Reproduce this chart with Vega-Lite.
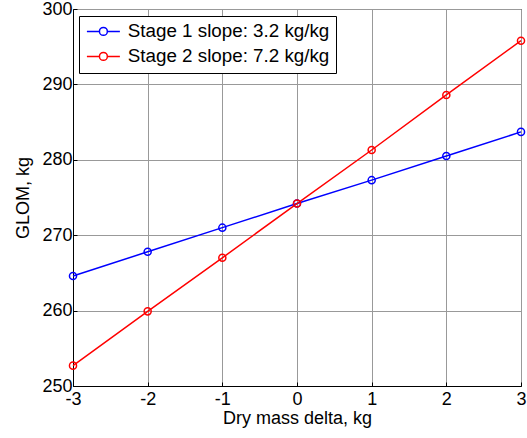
{
  "$schema": "https://vega.github.io/schema/vega-lite/v6.json",
  "width": 448,
  "height": 377,
  "autosize": {"type": "none"},
  "padding": {"left": 73, "top": 9, "right": 6, "bottom": 52},
  "background": "white",
  "config": {
    "font": "Liberation Sans",
    "view": {"stroke": "black", "strokeWidth": 1},
    "axis": {
      "domainColor": "black",
      "gridColor": "#999999",
      "gridWidth": 1,
      "gridOpacity": 1,
      "tickColor": "black",
      "tickSize": -4,
      "labelFont": "Liberation Sans",
      "labelFontSize": 18,
      "labelColor": "black",
      "titleFont": "Liberation Sans",
      "titleFontSize": 18,
      "titleFontWeight": "normal",
      "titleColor": "black"
    }
  },
  "data": {
    "values": [
      {"x": -3, "glom": 264.6, "series": "Stage 1 slope: 3.2 kg/kg"},
      {"x": -2, "glom": 267.8, "series": "Stage 1 slope: 3.2 kg/kg"},
      {"x": -1, "glom": 271.0, "series": "Stage 1 slope: 3.2 kg/kg"},
      {"x": 0, "glom": 274.2, "series": "Stage 1 slope: 3.2 kg/kg"},
      {"x": 1, "glom": 277.3, "series": "Stage 1 slope: 3.2 kg/kg"},
      {"x": 2, "glom": 280.5, "series": "Stage 1 slope: 3.2 kg/kg"},
      {"x": 3, "glom": 283.7, "series": "Stage 1 slope: 3.2 kg/kg"},
      {"x": -3, "glom": 252.7, "series": "Stage 2 slope: 7.2 kg/kg"},
      {"x": -2, "glom": 259.9, "series": "Stage 2 slope: 7.2 kg/kg"},
      {"x": -1, "glom": 267.0, "series": "Stage 2 slope: 7.2 kg/kg"},
      {"x": 0, "glom": 274.2, "series": "Stage 2 slope: 7.2 kg/kg"},
      {"x": 1, "glom": 281.3, "series": "Stage 2 slope: 7.2 kg/kg"},
      {"x": 2, "glom": 288.6, "series": "Stage 2 slope: 7.2 kg/kg"},
      {"x": 3, "glom": 295.8, "series": "Stage 2 slope: 7.2 kg/kg"}
    ]
  },
  "encoding": {
    "x": {
      "field": "x",
      "type": "quantitative",
      "scale": {"domain": [-3, 3], "nice": false},
      "axis": {"title": "Dry mass delta, kg", "values": [-3, -2, -1, 0, 1, 2, 3], "labelExpr": "'' + datum.value", "labelPadding": 8, "titlePadding": 1, "labelFlush": false}
    },
    "y": {
      "field": "glom",
      "type": "quantitative",
      "scale": {"domain": [250, 300], "nice": false, "zero": false},
      "axis": {"title": "GLOM, kg", "values": [250, 260, 270, 280, 290, 300], "labelPadding": 5, "titlePadding": 9, "labelFlush": false}
    },
    "color": {
      "field": "series",
      "type": "nominal",
      "scale": {"range": ["#0000ff", "#ff0000"]},
      "legend": {
        "title": null,
        "orient": "none",
        "legendX": 6,
        "legendY": 7,
        "strokeColor": "black",
        "fillColor": "white",
        "padding": 6,
        "labelFontSize": 18.8,
        "labelFont": "Liberation Sans",
        "labelColor": "black",
        "labelLimit": 400,
        "symbolType": "M-2,0H-0.48M0.48,0H2M0.48,0A0.48,0.48 0 1,1 -0.48,0A0.48,0.48 0 1,1 0.48,0",
        "symbolSize": 272,
        "symbolOffset": 9,
        "symbolStrokeWidth": 1.5,
        "symbolFillColor": "transparent",
        "symbolOpacity": 1,
        "rowPadding": 5,
        "labelOffset": 15
      }
    }
  },
  "layer": [
    {"mark": {"type": "line", "strokeWidth": 1.5}},
    {"mark": {"type": "point", "shape": "circle", "filled": false, "size": 50, "strokeWidth": 1.5, "opacity": 1}}
  ]
}
